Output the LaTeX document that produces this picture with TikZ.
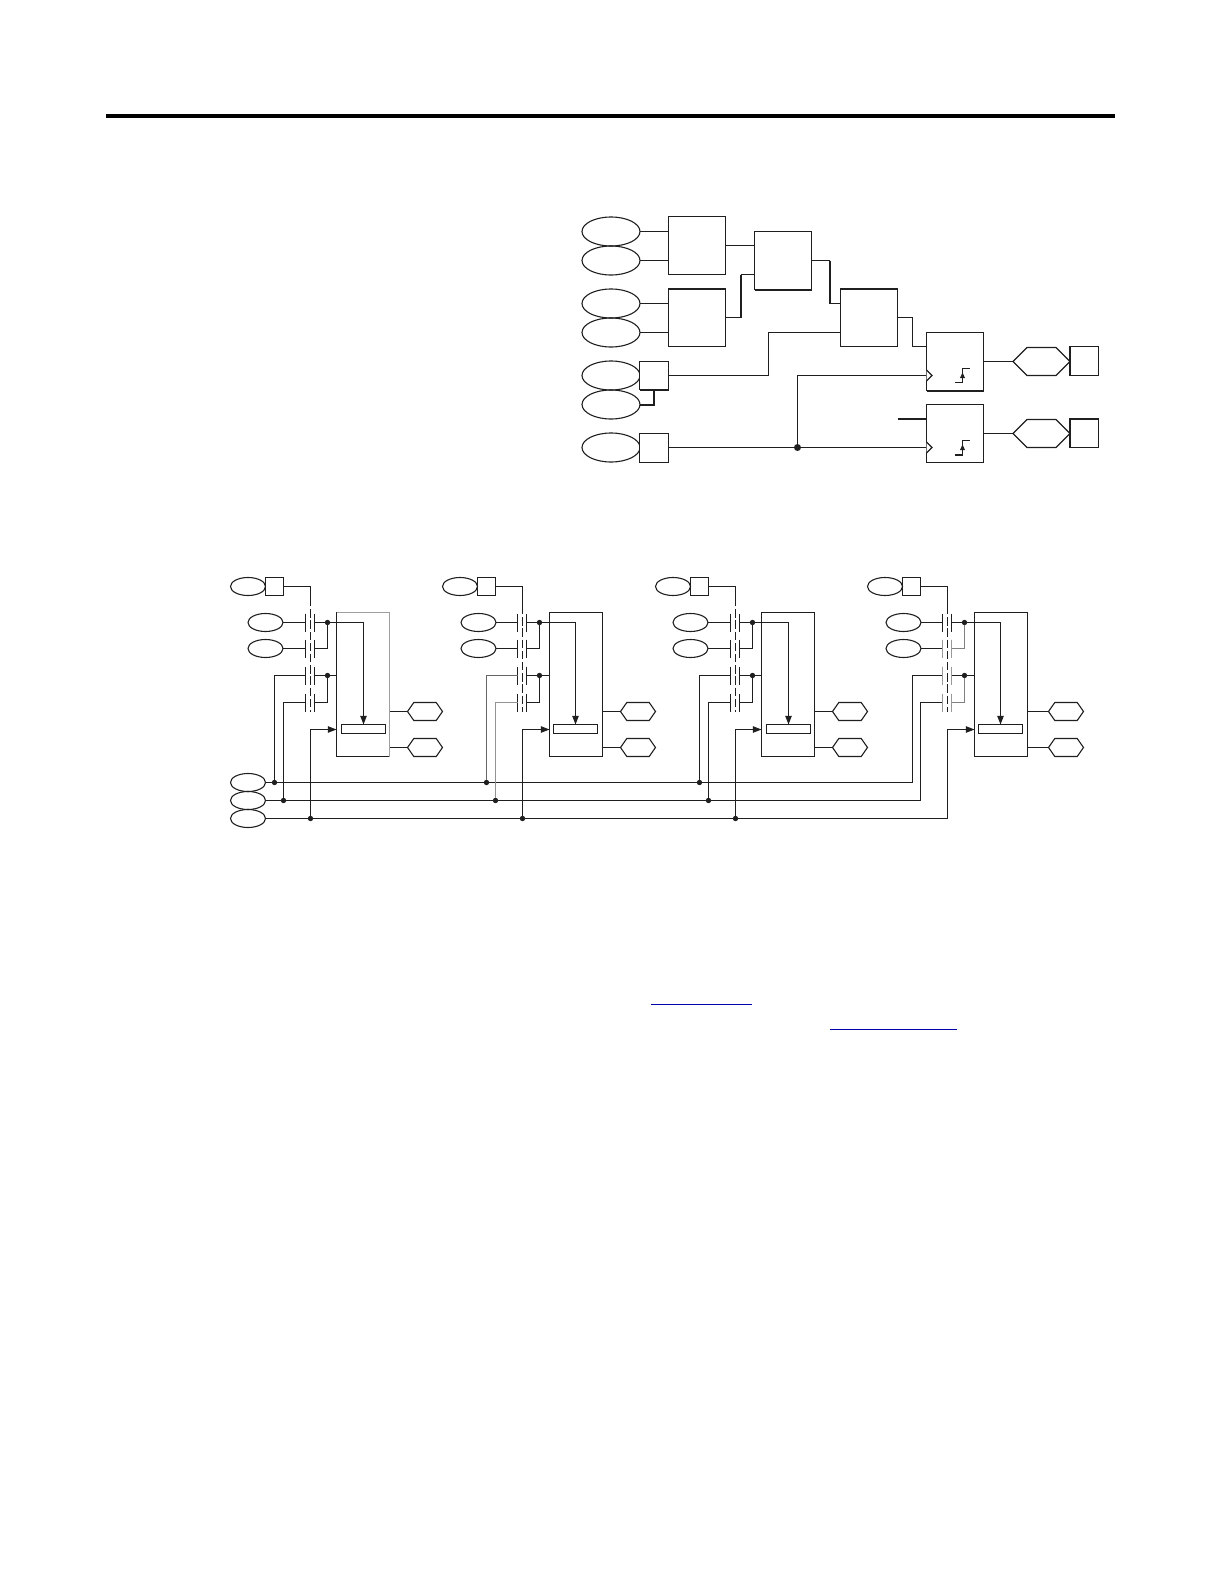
\documentclass[tikz,border=0pt]{standalone}
\usetikzlibrary{shapes.geometric,shapes.symbols,arrows.meta}
\definecolor{ink}{gray}{0.12}
\definecolor{linkblue}{RGB}{0,0,170}
\tikzset{
  sz/.style 2 args={minimum width=#1*.5pt,minimum height=#2*.5pt},
  base/.style={draw=ink,line width=.55pt,inner sep=0pt,outer sep=0pt},
  oval/.style={base,ellipse},
  blk/.style={base,rectangle},
  hexa/.style={base,signal,signal to=east and west,signal pointer angle=#1},
  ghost/.style={rectangle,inner sep=0pt,outer sep=0pt},
  joint/.style={circle,fill=ink,inner sep=0pt,outer sep=0pt,minimum size=#1*.5pt},
  wire/.style={draw=ink,line width=.55pt},
  fat/.style={draw=ink,line width=1pt},
  tip/.style={-{Triangle[length=4.3pt,width=3.2pt]}},
  rule/.style={draw=black,line width=2.3pt},
  linkline/.style={draw=linkblue,line width=.6pt}
}
\begin{document}
\begin{tikzpicture}[x=.5pt,y=-.5pt]
\useasboundingbox (0,0) rectangle (1224,1584);
% header rule and link underlines
\coordinate (ruleL) at (106,116); \coordinate (ruleR) at (1115,116);
\draw[rule] (ruleL) -- (ruleR);
\coordinate (lkA) at (651,1004.5); \coordinate (lkB) at (752,1004.5);
\coordinate (lkC) at (830,1029.5); \coordinate (lkD) at (957,1029.5);
\draw[linkline] (lkA) -- (lkB);
\draw[linkline] (lkC) -- (lkD);
% ---------- upper diagram ----------
\node[oval,sz={58}{29}] (E1) at (611,231.5) {};
\node[oval,sz={58}{29}] (E2) at (611,260.5) {};
\node[oval,sz={58}{29}] (E3) at (611,303.5) {};
\node[oval,sz={58}{29}] (E4) at (611,332.5) {};
\node[oval,sz={58}{29}] (E5) at (611,375.5) {};
\node[oval,sz={58}{29}] (E6) at (611,404.5) {};
\node[oval,sz={58}{29}] (E7) at (611,447.5) {};
\node[blk,sz={29}{28},fill=white] (S1) at (654,375.5) {};
\node[blk,sz={29}{29},fill=white] (S2) at (654,448) {};
\node[blk,sz={57}{58}] (B1) at (697,245.5) {};
\node[blk,sz={57}{58}] (B2) at (697,317.5) {};
\node[blk,sz={57}{58}] (B3) at (783,260.5) {};
\node[blk,sz={57}{58}] (B4) at (869,317.5) {};
\node[blk,sz={57}{58}] (B5) at (955,361.5) {};
\node[blk,sz={57}{58}] (B6) at (955,433.5) {};
\node[hexa=90,sz={57}{28}] (H1) at (1041.5,361.5) {};
\node[hexa=90,sz={57}{28}] (H2) at (1041.5,433.5) {};
\node[blk,sz={29}{29}] (Q1) at (1084,361) {};
\node[blk,sz={29}{29}] (Q2) at (1084,433) {};
\node[joint=7] (D) at (797.5,447.5) {};
\draw[wire] (E1.east) -- (B1.west |- E1.east);
\draw[wire] (E2.east) -- (B1.west |- E2.east);
\draw[wire] (E3.east) -- (B2.west |- E3.east);
\draw[wire] (E4.east) -- (B2.west |- E4.east);
\draw[wire] (B1.east) -- (B3.west |- B1.east);
\draw[wire] (B2.east) -- ++(15,0);
\draw[fat] (740.5,317.5) -- (740.5,274.5);
\draw[wire] (740.5,274.5) -- (B3.west |- 0,274.5);
\draw[fat] (E6.east) -| (S1.south);
\draw[wire] (S1.east) -| (768.5,332.5) -- (B4.west |- 0,332.5);
\draw[wire] (S2.east |- D) -- (D);
\draw[wire] (D) -- (B6.west |- D);
\draw[wire] (D) |- (B5.west |- 0,375.5);
\draw[wire] (B3.east) -- ++(18,0);
\draw[fat] (829.5,260.5) -- (829.5,303.5);
\draw[wire] (829.5,303.5) -- (B4.west |- 0,303.5);
\draw[wire] (B4.east) -| (912.5,346.5) -- (B5.west |- 0,346.5);
\draw[wire] (B5.east) -- (H1.west);
\draw[wire] (B6.east) -- (H2.west);
\coordinate (fr) at (897.5,418.5);
\draw[fat] (fr) -- (fr -| B6.west);
% emphasised box edges
\draw[fat] (B2.north west) -- (B2.north east);
\draw[fat] (B3.south west) -- (B3.south east);
\draw[fat] (B4.north west) -- (B4.north east);
\draw[fat] (B5.south west) -- (B5.south east);
\draw[fat] (S1.south west) -- (S1.south east);
\draw[fat] (Q1.north west) -- (Q1.south west);
\draw[fat] (Q2.north west) -- (Q2.south west);
\draw[fat] (Q2.north west) -- (Q2.north east);
% clock marks and step symbols
\foreach \d/\w in {0/wire,72/fat}{
  \draw[wire,fill=white] (926.5,370+\d) -- (932,375.5+\d) -- (926.5,381+\d);
  \draw[\w] (955,382.5+\d) -- (962.5,382.5+\d);
  \draw[wire] (962.5,382.5+\d) -- (962.5,368.5+\d) -- (970,368.5+\d);
  \fill[ink] (960,378+\d) -- (965,378+\d) -- (962.5,372.5+\d) -- cycle;
}
% ---------- lower diagram ----------
\node[oval,sz={35}{18}] (L1) at (248,782.5) {};
\node[oval,sz={35}{18}] (L2) at (248,800.5) {};
\node[oval,sz={35}{18}] (L3) at (248,818.5) {};
\foreach \i/\o/\q/\h/\dw/\ds in {1/0/0/0/.9pt/598,2/212/213/213/.55pt/606,3/425/425/425/.9pt/598,4/637/638/641/.55pt/606}{
  \node[oval,sz={35}{18}] (a\i) at (248+\o,586.5) {};
  \node[blk,sz={18}{18}] (s\i) at (274.5+\o,586.5) {};
  \node[oval,sz={35}{18}] (b\i) at (265.5+\q,622.5) {};
  \node[oval,sz={35}{18}] (c\i) at (265.5+\q,648.5) {};
  \node[blk,sz={53}{144}] (box\i) at (363+\q,684.5) {};
  \node[blk,sz={44}{9}] (in\i) at (363.5+\o,729) {};
  \node[hexa=110,sz={35}{18}] (ho\i) at (425+\h,711.5) {};
  \node[hexa=110,sz={35}{18}] (hp\i) at (425+\h,747.5) {};
  \node[ghost,sz={9}{18}] (k\i a) at (310+\o,622.5) {};
  \node[ghost,sz={9}{18}] (k\i b) at (310+\o,648.5) {};
  \node[ghost,sz={9}{18}] (k\i c) at (310+\o,675.5) {};
  \node[ghost,sz={9}{18}] (k\i d) at (310+\o,702.5) {};
  \foreach \r in {a,b,c,d}{
    \draw[wire] (k\i\r.north west) -- (k\i\r.south west);
    \draw[wire] (k\i\r.north east) -- (k\i\r.south east);
  }
  \node[joint=5.4] (dA\i) at (327.5+\o,622.5) {};
  \node[joint=5.4] (dB\i) at (327.5+\o,675.5) {};
  \coordinate (top\i) at (310.5+\o,\ds);
  \coordinate (bot\i) at (310.5+\o,711.5);
  \draw[wire] (s\i.east) -| (top\i);
  \draw[draw=ink,line width=\dw,dash pattern=on 4.2pt off 1.4pt] (top\i) -- (bot\i);
  \draw[wire] (b\i.east) -- (k\i a.west);
  \draw[wire] (c\i.east) -- (k\i b.west);
  \draw[wire] (k\i a.east) -- (dA\i);
  \draw[wire] (k\i b.east) -| (dA\i);
  \draw[wire] (k\i c.east) -- (dB\i);
  \draw[wire] (k\i d.east) -| (dB\i);
  \draw[wire] (dB\i) -- (dB\i -| box\i.west);
  \draw[wire,tip] (dA\i) -| (in\i.north);
  \draw[wire] (box\i.east |- ho\i) -- (ho\i.west);
  \draw[wire] (box\i.east |- hp\i) -- (hp\i.west);
}
% buses: taps on units 1 to 3, turn-up into unit 4
\foreach \i/\o in {1/0,2/212,3/425}{
  \node[joint=5.4] (pA\i) at (274.5+\o,782.5) {};
  \node[joint=5.4] (pB\i) at (283.5+\o,800.5) {};
  \node[joint=5.4] (pC\i) at (310.5+\o,818.5) {};
  \draw[wire] (pA\i) |- (k\i c.west);
  \draw[wire] (pB\i) |- (k\i d.west);
  \draw[wire,tip] (pC\i) |- (box\i.west |- 0,729.5);
}
\draw[wire] (L1.east) -- (912.5,782.5) |- (k4c.west);
\draw[wire] (L2.east) -- (920.5,800.5) |- (k4d.west);
\draw[wire,tip] (L3.east) -- (947.5,818.5) |- (box4.west |- 0,729.5);
% lighter strokes of the original print
\draw[line width=.7pt,draw=gray!75] (box1.north west) -- (box1.north east) -- (box1.south east);
\draw[line width=.7pt,draw=black!60] (pA2) |- (k2c.west);
\draw[line width=.8pt,draw=gray!85] (pB2) |- (k2d.west);
\foreach \r in {b,c,d}{
  \draw[line width=.7pt,draw=gray!80] (k4\r.north west) -- (k4\r.south west);
  \draw[line width=.7pt,draw=gray!80] (k4\r.north east) -- (k4\r.south east);
}
\draw[line width=.6pt,draw=gray] (k4b.east) -| (dA4);
\draw[line width=.6pt,draw=gray] (k4d.east) -| (dB4);
\end{tikzpicture}
\end{document}
